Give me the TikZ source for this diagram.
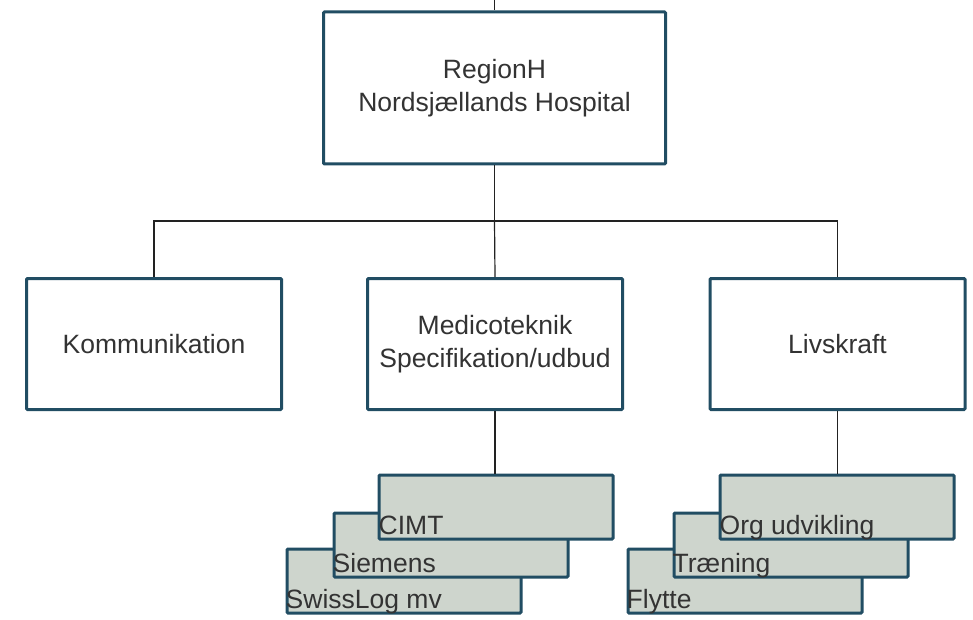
\documentclass[tikz,border=0pt]{standalone}
\usepackage{fontspec}
\setmainfont{Liberation Sans}
\begin{document}
\begin{tikzpicture}[x=1pt,y=-1pt,
  orgbox/.style={draw=boxborder, line width=3pt, fill=white, rounded corners=1pt,
    text=txtcol, align=center, inner sep=0pt, font=\fontsize{26.5}{33}\selectfont},
  stackbox/.style={draw=boxborder, line width=3pt, fill=stackfill, rounded corners=1pt,
    minimum width=234pt, minimum height=64pt, anchor=north west, inner sep=0pt},
  stacktext/.style={text=txtcol, anchor=base west, inner sep=0pt, font=\fontsize{26.5}{30}\selectfont},
  conn/.style={draw=conncol, line width=1.2pt}]
\definecolor{boxborder}{HTML}{214D63}
\definecolor{stackfill}{HTML}{CED5CD}
\definecolor{txtcol}{HTML}{333333}
\definecolor{conncol}{HTML}{222222}
\useasboundingbox (0,0) rectangle (973,620);

% main boxes
\node[orgbox, minimum width=342pt, minimum height=152pt] (top) at (494.5,88) {RegionH\\Nordsjællands Hospital};
\node[orgbox, minimum width=255pt, minimum height=131pt] (komm) at (154,344) {Kommunikation};
\node[orgbox, minimum width=255pt, minimum height=131pt] (med) at (495,344) {Medicoteknik\\Specifikation/udbud};
\node[orgbox, minimum width=255pt, minimum height=131pt] (liv) at (837.5,344) {Livskraft};

% connectors
\coordinate (in) at (494.5,0);
\coordinate (j) at (494.5,221);
\draw[conn] (in) -- (top.north);
\draw[conn] (top.south) -- (j);
\draw[conn] (komm.north) |- (j) -| (liv.north);
\draw[conn] (j) -- (med.north);

% left stack
\node[stackbox] (swiss) at (285.5,547.5) {};
\node[stacktext] (swissT) at ([xshift=0pt,yshift=6pt]swiss.south west) {SwissLog mv};
\node[stackbox] (siem) at (332.5,511.5) {};
\node[stacktext] (siemT) at ([xshift=0pt,yshift=6pt]siem.south west) {Siemens};
\node[stackbox] (cimt) at (377.5,473.5) {};
\node[stacktext] (cimtT) at ([xshift=1pt,yshift=6pt]cimt.south west) {CIMT};

% right stack
\node[stackbox] (flyt) at (626.5,547.5) {};
\node[stacktext] (flytT) at ([xshift=0pt,yshift=6pt]flyt.south west) {Flytte};
\node[stackbox] (traen) at (672.5,511.5) {};
\node[stacktext] (traenT) at ([xshift=0pt,yshift=6pt]traen.south west) {Træning};
\node[stackbox] (org) at (718.5,473.5) {};
\node[stacktext] (orgT) at ([xshift=1pt,yshift=6pt]org.south west) {Org udvikling};

\draw[conn] (med.south) -- (med.south |- cimt.north);
\draw[conn] (liv.south) -- (liv.south |- org.north);
\end{tikzpicture}
\end{document}
